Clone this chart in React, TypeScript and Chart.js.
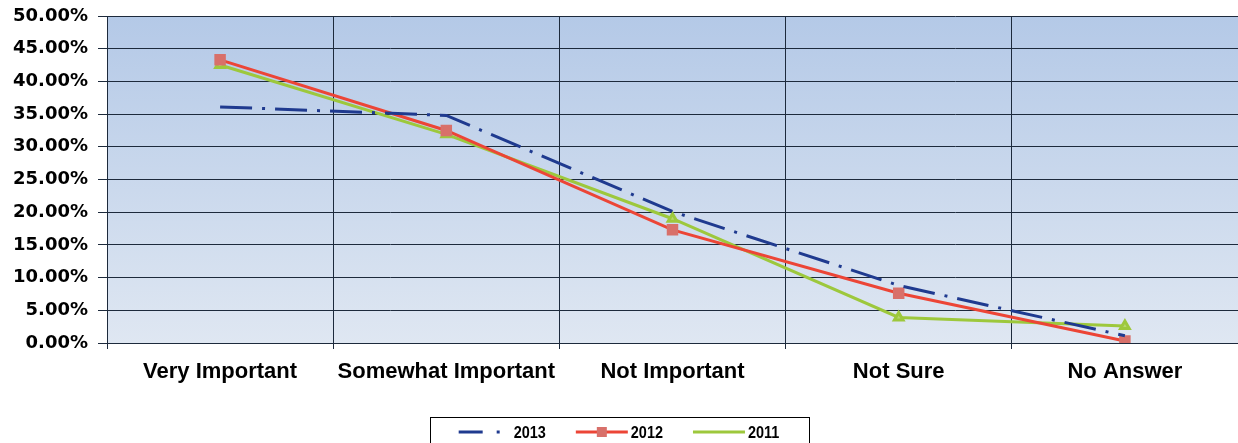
import { useEffect, useRef } from "react";
import { Chart, registerables } from "chart.js";

Chart.register(...registerables);

const categories = ["Very Important", "Somewhat Important", "Not Important", "Not Sure", "No Answer"];
const seriesNames = ["2013", "2012", "2011"];
const values2013 = [0.361, 0.348, 0.201, 0.088, 0.011];
const values2012 = [0.433, 0.325, 0.173, 0.076, 0.003];
const values2011 = [0.425, 0.319, 0.19, 0.039, 0.026];
const yMin = 0;
const yMax = 0.5;
const yStep = 0.05;

const Y_FONT = { family: "'DejaVu Sans', sans-serif", weight: "bold" as const, size: 18 };
const X_FONT = { family: "'Liberation Sans', Arial, sans-serif", weight: "bold" as const, size: 22 };
const GRID = "#1d2a3c";

export default function App() {
  const ref = useRef<HTMLCanvasElement | null>(null);

  useEffect(() => {
    document.body.style.margin = "0";
    const canvas = ref.current;
    if (!canvas) return;

    const bgPlugin = {
      id: "plotBg",
      beforeDraw(chart: any) {
        const { ctx, chartArea: a } = chart;
        const g = ctx.createLinearGradient(0, a.top, 0, a.bottom);
        g.addColorStop(0, "#b4c9e7");
        g.addColorStop(1, "#dfe7f2");
        ctx.save();
        ctx.fillStyle = g;
        ctx.fillRect(a.left, a.top, a.right - a.left, a.bottom - a.top);
        ctx.restore();
      },
    };

    const legendPlugin = {
      id: "boxLegend",
      afterDraw(chart: any) {
        const ctx = chart.ctx as CanvasRenderingContext2D;
        ctx.save();
        ctx.font = "bold 17px 'Liberation Sans', Arial, sans-serif";
        const squeeze = 0.85;
        const lineLen = 52;
        const gapText = 3;
        const gapItem = 30;
        const items = chart.data.datasets.map((ds: any) => ({ ds, w: ctx.measureText(ds.label).width * squeeze }));
        const total =
          items.reduce((s: number, it: any) => s + lineLen + gapText + it.w, 0) + gapItem * (items.length - 1);
        const cx = chart.width / 2;
        const boxW = total + 58;
        const boxTop = chart.height - 26;
        const cy = boxTop + 15;
        ctx.strokeStyle = "#000";
        ctx.lineWidth = 1;
        ctx.setLineDash([]);
        ctx.strokeRect(Math.round(cx - boxW / 2) + 0.5, boxTop + 0.5, Math.round(boxW), 40);
        let x = cx - total / 2;
        for (const it of items) {
          const ds = it.ds;
          ctx.save();
          ctx.strokeStyle = ds.borderColor;
          ctx.lineWidth = 3;
          ctx.setLineDash(ds.borderDash ? [24, 14, 3, 14] : []);
          ctx.beginPath();
          ctx.moveTo(x, cy);
          ctx.lineTo(x + lineLen, cy);
          ctx.stroke();
          if (ds.pointStyle === "rect") {
            ctx.fillStyle = ds.pointBackgroundColor;
            ctx.fillRect(x + lineLen / 2 - 5, cy - 5, 10, 10);
          }
          ctx.restore();
          ctx.save();
          ctx.fillStyle = "#000";
          ctx.textBaseline = "middle";
          ctx.textAlign = "left";
          ctx.translate(x + lineLen + gapText, cy + 1);
          ctx.scale(squeeze, 1);
          ctx.fillText(ds.label, 0, 0);
          ctx.restore();
          x += lineLen + gapText + it.w + gapItem;
        }
        ctx.restore();
      },
    };

    const chart = new Chart(canvas, {
      type: "line",
      data: {
        labels: categories,
        datasets: [
          {
            label: seriesNames[0],
            data: values2013,
            borderColor: "#1f3a8f",
            borderWidth: 3,
            borderDash: [32, 10, 3, 10],
            pointRadius: 0,
            tension: 0,
          },
          {
            label: seriesNames[1],
            data: values2012,
            borderColor: "#ec4536",
            borderWidth: 3,
            pointStyle: "rect",
            pointRadius: 6,
            pointBackgroundColor: "#d8706a",
            pointBorderColor: "#d8706a",
            tension: 0,
          },
          {
            label: seriesNames[2],
            data: values2011,
            borderColor: "#9dc83c",
            borderWidth: 3,
            pointStyle: "triangle",
            pointRadius: 5,
            pointBackgroundColor: "#b6d66c",
            pointBorderColor: "#9dc83c",
            tension: 0,
          },
        ] as any,
      },
      options: {
        animation: false,
        responsive: false,
        layout: { autoPadding: false, padding: { top: 16, right: 0, bottom: 40, left: 0 } },
        plugins: { legend: { display: false }, tooltip: { enabled: false } },
        scales: {
          x: {
            offset: true,
            afterFit(s: any) {
              s.paddingLeft = 0;
              s.paddingRight = 0;
              s.height = 60;
            },
            grid: { color: GRID, lineWidth: 1, offset: true, tickLength: 6 },
            border: { color: GRID, width: 1 },
            ticks: { color: "#000", font: X_FONT, padding: 10, maxRotation: 0, autoSkip: false },
          },
          y: {
            min: yMin,
            max: yMax,
            afterFit(s: any) {
              s.width = 107;
              s.paddingTop = 0;
              s.paddingBottom = 0;
            },
            grid: { color: GRID, lineWidth: 1, tickLength: 9 },
            border: { color: GRID, width: 1 },
            ticks: {
              stepSize: yStep,
              color: "#000",
              font: Y_FONT,
              padding: 10,
              callback: (v: any) => (Number(v) * 100).toFixed(2) + "%",
            },
          },
        },
      },
      plugins: [bgPlugin, legendPlugin],
    });
    return () => chart.destroy();
  }, []);

  return <canvas ref={ref} width={1238} height={443} style={{ display: "block" }} />;
}
